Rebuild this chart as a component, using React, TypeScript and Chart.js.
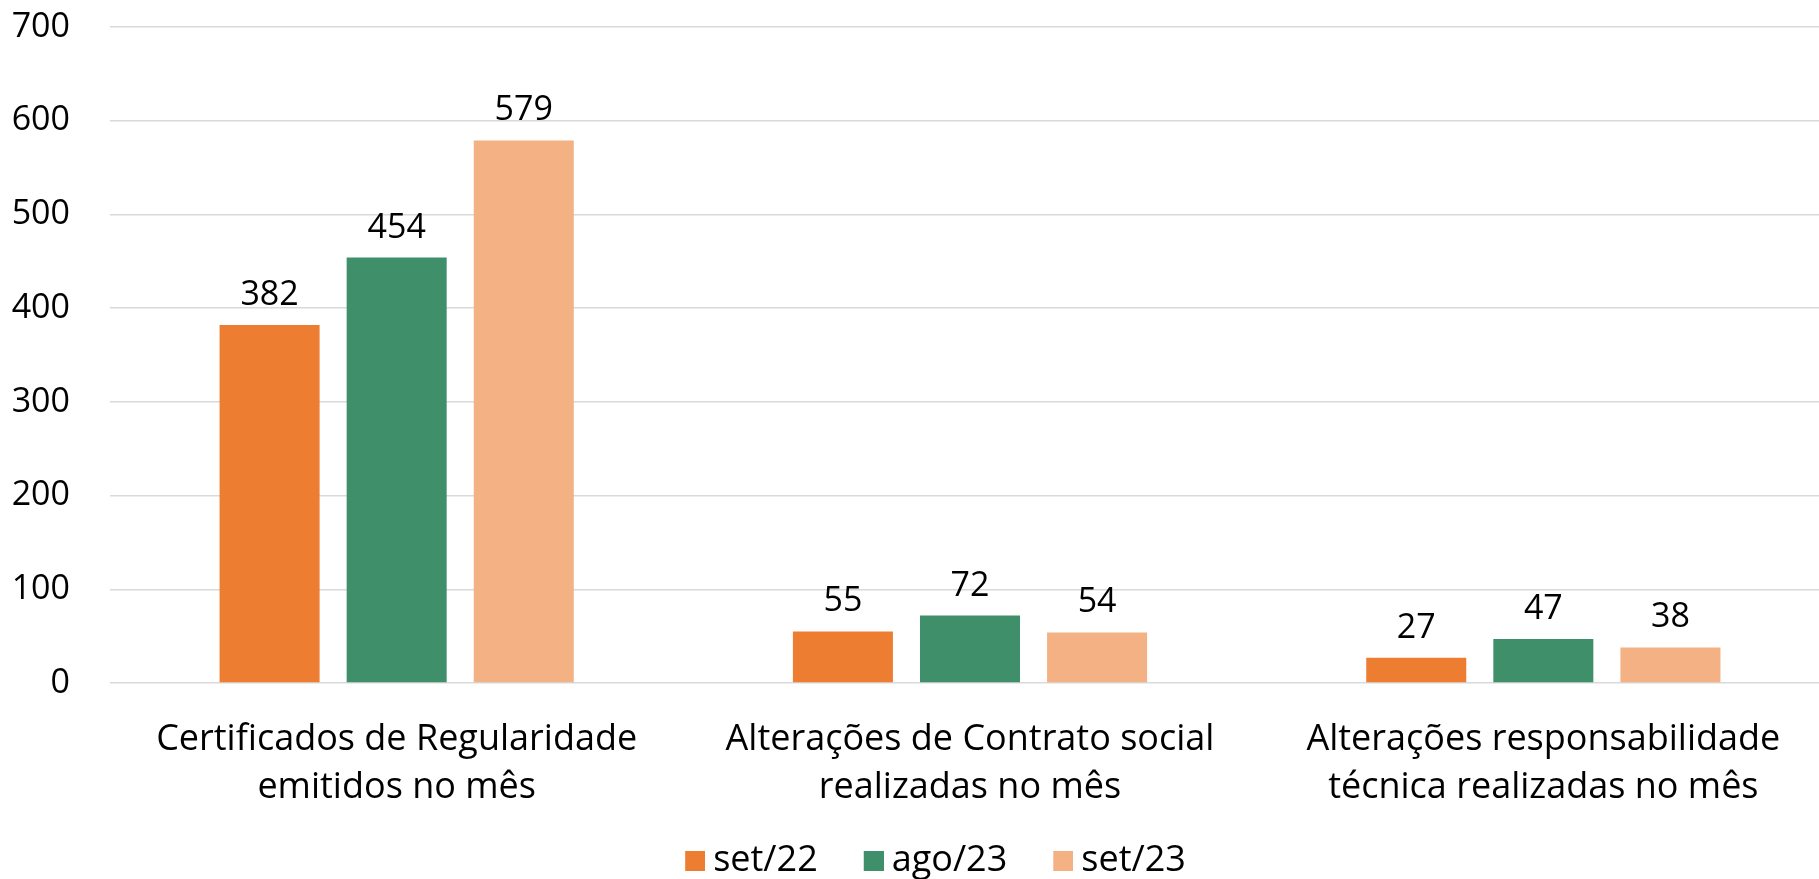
import React, { useEffect, useRef } from 'react';
import { Chart, registerables } from 'chart.js';

Chart.register(...registerables);

const categories: string[][] = [
  ['Certificados de Regularidade', 'emitidos no mês'],
  ['Alterações de Contrato social', 'realizadas no mês'],
  ['Alterações responsabilidade', 'técnica realizadas no mês'],
];
const seriesNames = ['set/22', 'ago/23', 'set/23'];
const set22 = [382, 55, 27];
const ago23 = [454, 72, 47];
const set23 = [579, 54, 38];
const seriesColors = ['#ED7D31', '#3F8F6A', '#F4B183'];
const yMin = 0;
const yMax = 700;
const yStep = 100;

const FONT = '"Open Sans", "Noto Sans", sans-serif';
const FS_NUM = 34;
const FS_TEXT = 36;

const valueLabels = {
  id: 'valueLabels',
  afterDatasetsDraw(chart: any) {
    const { ctx } = chart;
    ctx.save();
    ctx.font = `${FS_NUM}px ${FONT}`;
    ctx.fillStyle = '#000000';
    ctx.textAlign = 'center';
    ctx.textBaseline = 'alphabetic';
    chart.data.datasets.forEach((ds: any, i: number) => {
      const meta = chart.getDatasetMeta(i);
      meta.data.forEach((el: any, j: number) => {
        ctx.fillText(String(ds.data[j]), el.x, el.y - 20);
      });
    });
    ctx.restore();
  },
};

// Shift the legend's centring box slightly to the right, as in the reference.
const legendShift = {
  id: 'legendShift',
  afterLayout(chart: any) {
    if (chart.legend) chart.legend.left = 31;
  },
};

// Legend swatch: a 20px square drawn on the right half of a 40px-wide image,
// so that it sits close to its label text.
function makeSwatch(color: string): HTMLCanvasElement {
  const c = document.createElement('canvas');
  c.width = 40;
  c.height = 20;
  const g = c.getContext('2d');
  if (g) {
    g.fillStyle = color;
    g.fillRect(20, 0, 20, 20);
  }
  return c;
}

export default function App() {
  const ref = useRef<HTMLCanvasElement>(null);
  useEffect(() => {
    if (!ref.current) return;
    const seriesData = [set22, ago23, set23];
    const chart = new Chart(ref.current, {
      type: 'bar',
      data: {
        labels: categories,
        datasets: seriesNames.map((name, i) => ({
          label: name,
          data: seriesData[i],
          backgroundColor: seriesColors[i],
          borderWidth: 0,
          categoryPercentage: 0.665,
          barPercentage: 0.787,
          pointStyle: makeSwatch(seriesColors[i]),
        })),
      },
      options: {
        animation: false,
        responsive: true,
        maintainAspectRatio: false,
        layout: { padding: { top: 27, left: 0, right: 0, bottom: 0 } },
        plugins: {
          tooltip: { enabled: false },
          legend: {
            position: 'bottom',
            labels: {
              usePointStyle: true,
              pointStyleWidth: 20,
              boxWidth: 20,
              boxHeight: 20,
              padding: 36,
              color: '#000000',
              font: { family: FONT, size: FS_TEXT },
            },
          },
        },
        scales: {
          x: {
            grid: { display: false, drawTicks: false },
            border: { display: false },
            ticks: {
              color: '#000000',
              font: { family: FONT, size: FS_TEXT, lineHeight: 1.32 },
              padding: 33,
              maxRotation: 0,
              autoSkip: false,
            },
            afterFit(scale: any) {
              scale.height = 124;
            },
          },
          y: {
            min: yMin,
            max: yMax,
            grid: { color: '#D9D9D9', lineWidth: 1.5, drawTicks: false },
            border: { display: false },
            ticks: {
              stepSize: yStep,
              color: '#000000',
              font: { family: FONT, size: FS_NUM },
              padding: 40,
            },
            afterFit(scale: any) {
              scale.width = 110;
              scale.paddingTop = 0;
              scale.paddingBottom = 0;
            },
          },
        },
      },
      plugins: [valueLabels, legendShift],
    });
    return () => chart.destroy();
  }, []);
  return (
    <div style={{ position: 'fixed', left: 0, top: 0, width: 'calc(100vw + 11px)', height: 'calc(100vh + 10px)', background: '#fff' }}>
      <canvas ref={ref} />
    </div>
  );
}
